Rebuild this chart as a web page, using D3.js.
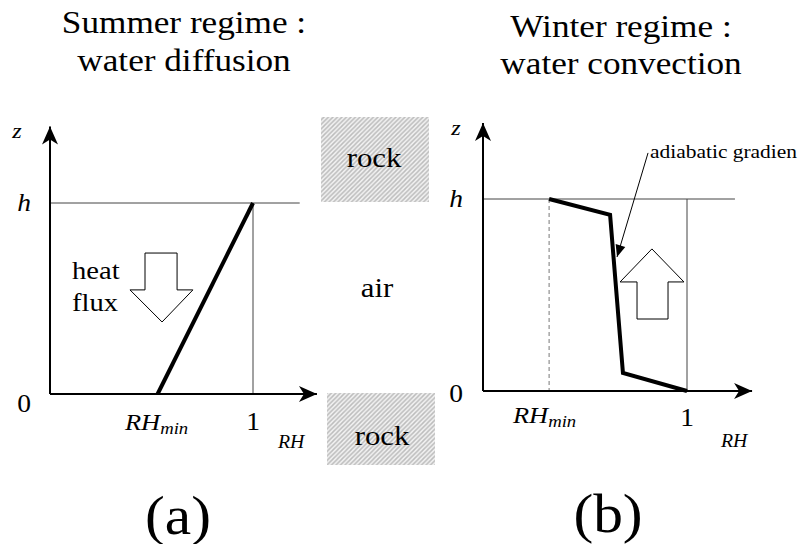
<!DOCTYPE html>
<html><head><meta charset="utf-8">
<script src="https://cdn.jsdelivr.net/npm/d3@7"></script>
<style>
html,body{margin:0;padding:0;background:#fff;}
svg{display:block;font-family:"Liberation Serif","Times New Roman",serif;}
</style></head>
<body><svg id="c" width="807" height="544"></svg>
<script>
// ---- data ----
const summerTitle = ["Summer regime :", "water diffusion"];
const winterTitle = ["Winter regime :", "water convection"];
const panelLabels = ["(a)", "(b)"];
const zTickLabels = ["0", "h"];          // at z = 0 and z = h (=1)
const zTickValues = [0, 1];
const rhTickValues = { summer: [0.53, 1], winter: [0.324, 1] }; // RHmin, 1
// summer profile: linear from RHmin at z=0 to 1 at z=h
const summerRH = [0.53, 1];
const summerZ  = [0, 1];
// winter profile: convective, near-vertical adiabatic segment
const winterRH = [0.324, 0.623, 0.686, 1];
const winterZ  = [1, 0.917, 0.094, 0];
// hollow flux arrows (RH, z)
const heatArrowRH = [0.468, 0.626, 0.626, 0.704, 0.552, 0.394, 0.468];
const heatArrowZ  = [0.738, 0.738, 0.545, 0.545, 0.377, 0.545, 0.545];
const convArrowRH = [0.755, 0.907, 0.907, 0.985, 0.828, 0.672, 0.755];
const convArrowZ  = [0.375, 0.375, 0.568, 0.568, 0.740, 0.568, 0.568];
// annotation "adiabatic gradien(t)" pointer (RH, z)
const annotRH = [0.809, 0.657];
const annotZ  = [1.240, 0.698];
const annotText = "adiabatic gradien";

// ---- setup ----
const svg = d3.select("#c");
const SX = 1.1;
const FONT = '"Liberation Serif","Times New Roman",serif';
const defs = svg.append("defs");
defs.append("marker").attr("id","ax").attr("markerUnits","userSpaceOnUse")
  .attr("markerWidth",24).attr("markerHeight",20).attr("viewBox","0 -10 20 20")
  .attr("refX",18).attr("refY",0).attr("orient","auto")
  .append("path").attr("d","M0,-8 L18,0 L0,8 L5,0 Z").attr("fill","#000");
defs.append("marker").attr("id","sm").attr("markerUnits","userSpaceOnUse")
  .attr("markerWidth",16).attr("markerHeight",12).attr("viewBox","0 -6 14 12")
  .attr("refX",12).attr("refY",0).attr("orient","auto")
  .append("path").attr("d","M0,-5 L12,0 L0,5 Z").attr("fill","#000");
const pat = defs.append("pattern").attr("id","hatch").attr("patternUnits","userSpaceOnUse")
  .attr("width",4.5).attr("height",4.5);
pat.append("rect").attr("width",4.5).attr("height",4.5).attr("fill","#f3f3f3");
pat.append("path").attr("d","M-1,1 L1,-1 M0,4.5 L4.5,0 M3.5,5.5 L5.5,3.5")
  .attr("stroke","#bcbcbc").attr("stroke-width",1.5);

function txt(x, y, s, size, opts = {}) {
  const t = svg.append("text")
    .attr("transform", `translate(${x},${y}) scale(${SX},1)`)
    .attr("font-family", FONT)
    .attr("font-size", size)
    .attr("text-anchor", opts.anchor || "middle")
    .attr("fill", "#000");
  if (opts.italic) t.attr("font-style", "italic");
  t.text(s);
  return t;
}
function rhMinLabel(x, y) {
  const t = svg.append("text")
    .attr("transform", `translate(${x},${y}) scale(${SX},1)`)
    .attr("font-family", FONT)
    .attr("font-size", 24).attr("font-style","italic").attr("fill","#000");
  t.append("tspan").text("RH");
  t.append("tspan").attr("font-size", 17).attr("dy", 4).text("min");
}

function panel(cfg) {
  const x = d3.scaleLinear().domain([0,1]).range(cfg.xr);
  const y = d3.scaleLinear().domain([0,1]).range(cfg.yr);
  const line = d3.line().x(d => x(d[0])).y(d => y(d[1]));
  // h line
  svg.append("line").attr("x1", x(0)).attr("x2", x(cfg.hEnd))
    .attr("y1", y(1)).attr("y2", y(1)).attr("stroke","#444").attr("stroke-width",1);
  // RH = 1 vertical
  svg.append("line").attr("x1", x(1)).attr("x2", x(1))
    .attr("y1", y(1)).attr("y2", y(0)).attr("stroke","#444").attr("stroke-width",1);
  if (cfg.dashed) {
    svg.append("line").attr("x1", x(cfg.rhTicks[0])).attr("x2", x(cfg.rhTicks[0]))
      .attr("y1", y(1)).attr("y2", y(0)).attr("stroke","#777").attr("stroke-width",1)
      .attr("stroke-dasharray","4,3");
  }
  // axes
  svg.append("path").attr("d", line([[0,0],[cfg.xMax,0]]))
    .attr("stroke","#000").attr("stroke-width",2).attr("fill","none").attr("marker-end","url(#ax)");
  svg.append("path").attr("d", line([[0,0],[0,cfg.zMax]]))
    .attr("stroke","#000").attr("stroke-width",2).attr("fill","none").attr("marker-end","url(#ax)");
  // hollow arrow
  svg.append("path").attr("d", line(cfg.arRH.map((v,i)=>[v,cfg.arZ[i]])) + "Z")
    .attr("fill","#fff").attr("stroke","#000").attr("stroke-width",1);
  // profile
  svg.append("path").attr("d", line(cfg.pRH.map((v,i)=>[v,cfg.pZ[i]])))
    .attr("fill","none").attr("stroke","#000").attr("stroke-width",4).attr("stroke-linejoin","miter");
  // tick labels
  zTickValues.forEach((v,i) => {
    txt(x(0) - cfg.zLabDx, y(v) + cfg.zLabDy[i], zTickLabels[i], 25, {italic: i===1});
  });
  rhMinLabel(cfg.rhMinX, cfg.rhLabY - (cfg.rhMinUp||0));
  txt(x(1), cfg.rhLabY, "1", 25);
  txt(cfg.rhTitleX, cfg.rhTitleY, "RH", 18, {italic:true, anchor:"start"});
  txt(x(0) - cfg.zTitleDx, y(cfg.zMax) + cfg.zTitleDy, "z", 22, {italic:true});
  return {x, y, line};
}

// ---- panel (a) ----
const A = panel({
  xr:[50,253], yr:[394,203], hEnd:1.23, xMax:1.315, zMax:1.40,
  arRH:heatArrowRH, arZ:heatArrowZ, pRH:summerRH, pZ:summerZ,
  rhTicks:rhTickValues.summer, zLabDx:26, zLabDy:[18,8],
  rhMinX:125, rhLabY:430, rhTitleX:278, rhTitleY:448, zTitleDx:33, zTitleDy:11
});
txt(72, 279, "heat", 26, {anchor:"start"});
txt(72, 311, "flux", 26, {anchor:"start"});

// ---- panel (b) ----
const B = panel({
  xr:[483,687], yr:[391,199], hEnd:1.235, xMax:1.319, zMax:1.396,
  arRH:convArrowRH, arZ:convArrowZ, pRH:winterRH, pZ:winterZ, dashed:true,
  rhTicks:rhTickValues.winter, zLabDx:27, zLabDy:[11,8],
  rhMinX:513, rhLabY:426, rhMinUp:3, rhTitleX:721, rhTitleY:447, zTitleDx:27, zTitleDy:12
});
svg.append("path").attr("d", B.line(annotRH.map((v,i)=>[v,annotZ[i]])))
  .attr("stroke","#000").attr("stroke-width",1).attr("fill","none").attr("marker-end","url(#sm)");
txt(B.x(annotRH[0]) + 2, 158, annotText, 19.5, {anchor:"start"});

// ---- rock / air ----
svg.append("rect").attr("x",321).attr("y",117).attr("width",108).attr("height",85).attr("fill","url(#hatch)");
svg.append("rect").attr("x",327).attr("y",393).attr("width",108).attr("height",72).attr("fill","url(#hatch)");
txt(374, 167, "rock", 28);
txt(382, 445, "rock", 28);
txt(377, 297, "air", 28);

// ---- titles ----
summerTitle.forEach((s,i) => txt(184, [33,71][i], s, 32));
winterTitle.forEach((s,i) => txt(621, [37,74][i], s, 32));
txt(178, 534, panelLabels[0], 54);
txt(608, 532, panelLabels[1], 54);
</script></body></html>
